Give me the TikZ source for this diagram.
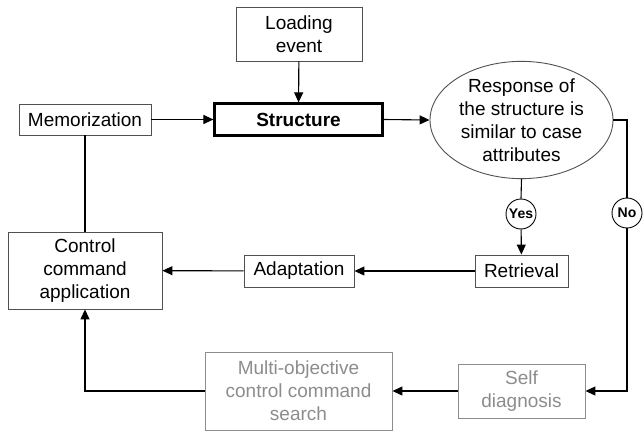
\documentclass[tikz,border=0pt]{standalone}
\usepackage{fontspec}
\setmainfont{Liberation Sans}
\usetikzlibrary{arrows.meta,shapes.geometric}
\definecolor{lgray}{RGB}{140,140,140}
\definecolor{bgray}{RGB}{80,80,80}
\begin{document}
\begin{tikzpicture}[x=1pt,y=-1pt,
  box/.style={draw=bgray,line width=0.9pt,inner sep=0pt,align=center,font=\fontsize{19}{23}\selectfont},
  gbox/.style={box,draw=lgray,text=lgray},
  dec/.style={circle,draw=black,line width=0.9pt,inner sep=0pt,minimum size=30pt,font=\fontsize{14}{16}\selectfont\bfseries},
  arr/.style={line width=1.1pt,-{Triangle[length=10pt,width=9pt]}},
  ln/.style={line width=1.1pt}]
\useasboundingbox (0,0) rectangle (643,431);
\node[box,minimum width=126pt,minimum height=54pt] (load) at (299,34) {Loading\\event};
\node[box,minimum width=132pt,minimum height=31pt] (mem) at (85,119.5) {Memorization};
\node[box,draw=black,line width=2.2pt,minimum width=168pt,minimum height=32pt,font=\fontsize{19}{23}\selectfont\bfseries] (str) at (298.5,119.5) {Structure};
\node[ellipse,draw=bgray,line width=0.9pt,inner sep=0pt,minimum width=183pt,minimum height=114pt,align=center,font=\fontsize{19}{23}\selectfont] (ell) at (521.5,120) {Response of\\the structure is\\similar to case\\attributes};
\node[dec] (yes) at (521,214) {Yes};
\node[dec] (no) at (627,213) {No};
\node[box,minimum width=93pt,minimum height=32pt] (ret) at (521.5,271) {Retrieval};
\node[box,minimum width=110pt,minimum height=32pt] (ada) at (299,271) {Adaptation};
\node[box,minimum width=154pt,minimum height=77pt] (ctl) at (85,270.5) {Control\\command\\application};
\node[gbox,minimum width=187pt,minimum height=78pt] (multi) at (298.5,391) {Multi-objective\\control command\\search};
\node[gbox,minimum width=127pt,minimum height=54pt] (self) at (521.5,391) {Self\\diagnosis};
\draw[arr] (load) -- (str);
\draw[arr] (mem) -- (str);
\draw[arr] (str.east) -- (ell.west);
\draw[ln] (ell.south) -- (yes.north);
\draw[arr] (yes) -- (ret);
\draw[ln] (ell.east) -| (no.north);
\draw[arr] (no.south) |- (self.east);
\draw[arr] (ret) -- (ada);
\draw[arr] (ada) -- (ctl);
\draw[arr] (self) -- (multi);
\draw[arr] (multi.west) -| (ctl.south);
\draw[ln] (mem) -- (ctl);
\end{tikzpicture}
\end{document}
